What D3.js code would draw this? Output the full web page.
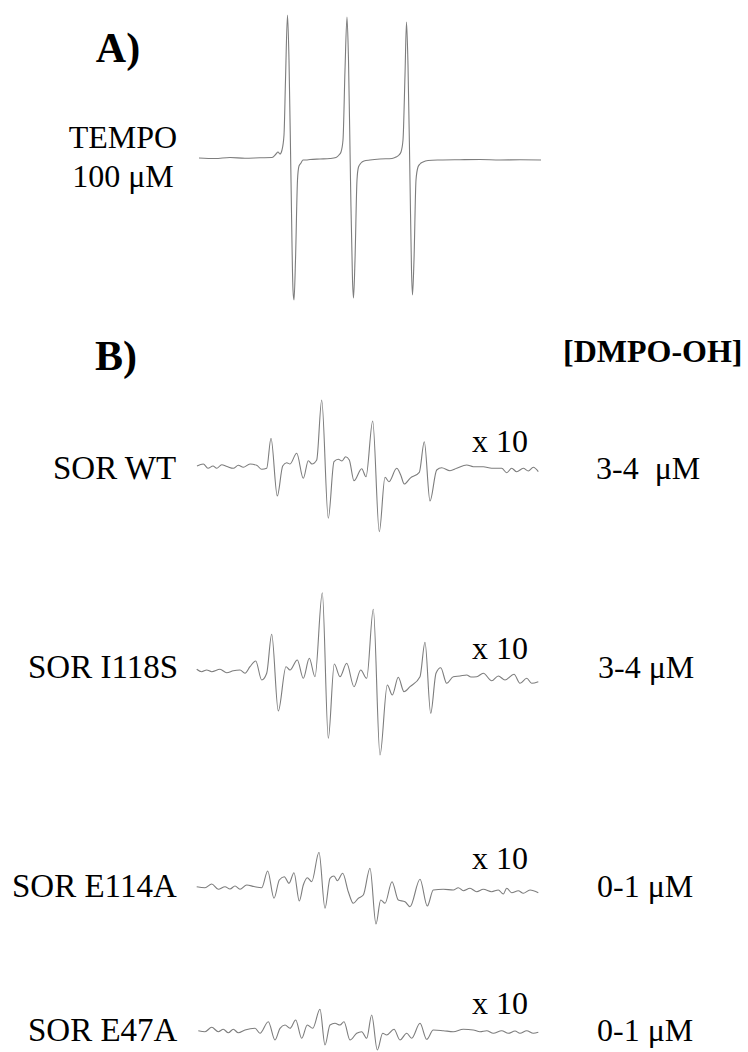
<!DOCTYPE html>
<html><head><meta charset="utf-8">
<script src="https://cdn.jsdelivr.net/npm/d3@7"></script>
<style>
html,body{margin:0;padding:0;background:#fff;}
svg text{font-family:"Liberation Serif","Times New Roman",serif;fill:#000;white-space:pre;}
</style></head>
<body><svg id="c" width="748" height="1052"></svg>
<script>
// Relative field (a.u.) and derivative EPR intensity (a.u.)
const tempo = [[2,0],[18,-0.5],[33,0.5],[48,-0.3],[63,0.2],[75,0.5],[79,4],[81,6],[83,4],[85,8],[87,23],[88.5,78],[90.5,143],[92,98],[94,-22],[96,-132],[97,-142],[98.5,-102],[100.5,-22],[102,-8],[104,-5],[106,-2],[109,-2],[113,-1.5],[123,-1],[133,-0.5],[139,0.5],[142,3],[144,6],[146,18],[148,88],[150,141],[151.5,98],[153.5,-22],[155.5,-122],[156.5,-140],[158,-102],[160,-22],[161.5,-9],[164,-5],[167,-3],[173,-2],[183,-1],[195,-0.5],[199,1],[202,3],[204,6],[206,18],[208,83],[209.5,136],[211,93],[213,-22],[214.5,-112],[215.5,-137],[217,-102],[219,-22],[221,-9],[223,-6],[226,-4],[231,-2.5],[243,-2],[263,-1.7],[283,-1.5],[303,-2],[323,-1.8],[344,-2]];

const sorWT = [[0,0.10],[6.3,0.30],[11,-0.13],[16,0.10],[19.7,-0.13],[24.7,0.23],[30,0.05],[36.3,-0.13],[41.3,0.17],[46.3,-0.03],[53,0.30],[59.7,0.17],[64.7,-0.23],[69.7,-0.13],[74,2.87],[80.3,-2.90],[85.7,0.10],[89.7,0.43],[93,0.30],[99.7,1.37],[106.3,-1.13],[111.3,0.63],[115,0.30],[119.7,0.70],[124.7,6.70],[131.3,-5.13],[137,0.53],[141.3,0.77],[145,0.60],[148.7,1.03],[152.3,0.70],[157,-1.37],[164.7,-0.17],[169,-0.97],[175.7,4.60],[182.3,-6.47],[188,-1.03],[192,-1.47],[199.7,-0.13],[203.7,-0.80],[207.3,-1.70],[213,-1.13],[222.3,-0.53],[227.3,2.53],[233,-3.40],[239.7,-0.30],[244.7,-0.07],[253,-0.37],[259.7,-0.13],[269.7,0.20],[276.3,0.03],[286.3,0.03],[294.7,-0.13],[304.7,-0.13],[309.7,-0.57],[314.7,-0.13],[319.7,-0.47],[326.3,-0.13],[331.3,-0.40],[336.3,-0.03],[341.3,-0.47]];

const sorI118S = [[-0.3,0.07],[4.7,-0.17],[9.7,0],[14.7,-0.17],[23,0.07],[29.7,-0.27],[36.3,-0.07],[43,0],[48,-0.33],[53,0.33],[58.7,0.90],[64.7,-1.00],[69.7,-0.33],[74.7,3.57],[81.3,-4.10],[89,0.33],[93,0],[100.3,1.00],[106.3,-0.83],[112.3,1.17],[118,-0.67],[125.3,7.73],[131.3,-6.83],[137.3,0.60],[143,-0.67],[149.7,0.67],[157,-1.67],[163.7,0],[169.7,-0.83],[176.3,6.07],[183,-8.50],[190.3,-1.50],[195.3,-2.50],[201.3,-0.73],[207,-2.17],[213,-1.67],[223,-0.67],[228,2.77],[233.7,-4.33],[239,-0.33],[243.7,0.23],[249.7,-1.33],[256.3,-0.67],[263,-0.60],[269.7,-0.50],[274,-0.70],[279.7,-0.67],[286.3,-0.33],[294.7,-1.07],[301.3,-0.60],[308,-1.00],[317,-0.43],[323,-1.33],[329.7,-0.83],[334.7,-1.33],[341.3,-1.17]];

const sorE114A = [[-0.3,0.03],[8,-0.07],[14.7,0.30],[21.3,-0.23],[28,0.03],[33,-0.20],[38,0.10],[43,-0.23],[49.7,0.20],[57,0.05],[64.7,-0.07],[70.7,1.60],[77,-1.13],[82.3,0.70],[87.3,1.03],[92,0.37],[97,1.43],[102.3,-1.40],[106.3,0.20],[110.3,0.93],[114.7,0.53],[122,3.47],[128,-2.13],[133,0.87],[137,1.10],[140.3,0.63],[145.7,1.37],[151.3,-0.47],[156.3,-1.63],[161.3,-1.13],[166.3,-0.80],[173,1.87],[179,-3.70],[183.7,-1.30],[188,-1.63],[195,0.53],[201.3,-1.30],[208,-1.47],[213,-1.97],[223,0.77],[230.3,-1.90],[236.3,-0.30],[246.3,-0.23],[256.3,-0.30],[261.3,-0.07],[266.3,-0.37],[273,-0.13],[279.7,-0.47],[286.3,-0.23],[294.7,-0.47],[301.3,-0.30],[306.3,-0.70],[309.7,-0.13],[314.7,-0.57],[321.3,-0.37],[326.3,-0.63],[333,-0.30],[341.3,-0.57]];

const sorE47A = [[1.3,0.03],[8,-0.07],[14.7,0.37],[21.3,-0.07],[26.3,0.17],[31.3,-0.17],[36.3,0.17],[41.3,-0.17],[48,0.10],[58,0.27],[63,-0.23],[71.3,0.93],[78,-0.90],[83,0.27],[88,0.60],[93,0.27],[98.7,1.10],[104.7,-0.73],[110.3,0.60],[115.7,0.27],[123,2.17],[128,-1.40],[133,0.60],[138,0.77],[143,0.60],[147,0.93],[153,-0.90],[159.7,-0.23],[164.7,-0.07],[169.7,-0.73],[174.7,1.60],[180.3,-1.90],[185.7,-0.23],[189.7,-0.40],[197,0.17],[203,-0.90],[209.7,-0.23],[214.7,-0.73],[223,0.77],[229.7,-0.83],[236.3,0.10],[246.3,0.03],[256.3,-0.07],[266.3,0.17],[276.3,0.10],[283,-0.07],[289.7,0.03],[296.3,-0.23],[304.7,0.03],[311.3,-0.23],[318,0],[323,-0.23],[329.7,0.03],[336.3,-0.23],[341.3,-0.13]];

const sampleLabels = ["SOR WT","SOR I118S","SOR E114A","SOR E47A"];
const dmpoLabels = ["3-4  \u03BCM","3-4 \u03BCM","0-1 \u03BCM","0-1 \u03BCM"];
const gainLabel = "x 10";
const gain = 10;

const svg = d3.select("#c");
const x = d3.scaleLinear().domain([0, 341]).range([197, 538]);
const line = (ys) => d3.line().x(d => x(d[0])).y(d => ys(d[1])).curve(d3.curveMonotoneX);
const col = "#7d7d7d";

// Panel A
const yA = d3.scaleLinear().domain([0, 1]).range([158, 157]);
svg.append("path").datum(tempo).attr("d", line(yA)).attr("fill","none").attr("stroke",col).attr("stroke-width",1.1);
svg.append("text").attr("x",118).attr("y",62).attr("text-anchor","middle").attr("font-size",42).attr("font-weight","bold").text("A)");
svg.append("text").attr("x",123).attr("y",148).attr("text-anchor","middle").attr("font-size",32).text("TEMPO");
svg.append("text").attr("x",123).attr("y",187).attr("text-anchor","middle").attr("font-size",32).text("100 \u03BCM");

// Panel B
svg.append("text").attr("x",116).attr("y",370).attr("text-anchor","middle").attr("font-size",42).attr("font-weight","bold").text("B)");
svg.append("text").attr("x",563).attr("y",362).attr("font-size",32).attr("font-weight","bold").text("[DMPO-OH]");

const series = [sorWT, sorI118S, sorE114A, sorE47A];
const bases = [467, 670, 887, 1031];
const labelX = [53, 28, 12, 28];
const labelY = [479, 678, 897, 1041];
const gainY = [452, 659, 869, 1014];
const rightX = [596, 598, 597, 597];

series.forEach((s, i) => {
  const ys = d3.scaleLinear().domain([0, 1]).range([bases[i], bases[i] - gain]);
  svg.append("path").datum(s).attr("d", line(ys)).attr("fill","none").attr("stroke",col).attr("stroke-width",1.1);
  svg.append("text").attr("x",labelX[i]).attr("y",labelY[i]).attr("font-size",33).text(sampleLabels[i]);
  svg.append("text").attr("x",472).attr("y",gainY[i]).attr("font-size",32).text(gainLabel);
  svg.append("text").attr("x",rightX[i]).attr("y",labelY[i]).attr("font-size",32).text(dmpoLabels[i]);
});
</script></body></html>
